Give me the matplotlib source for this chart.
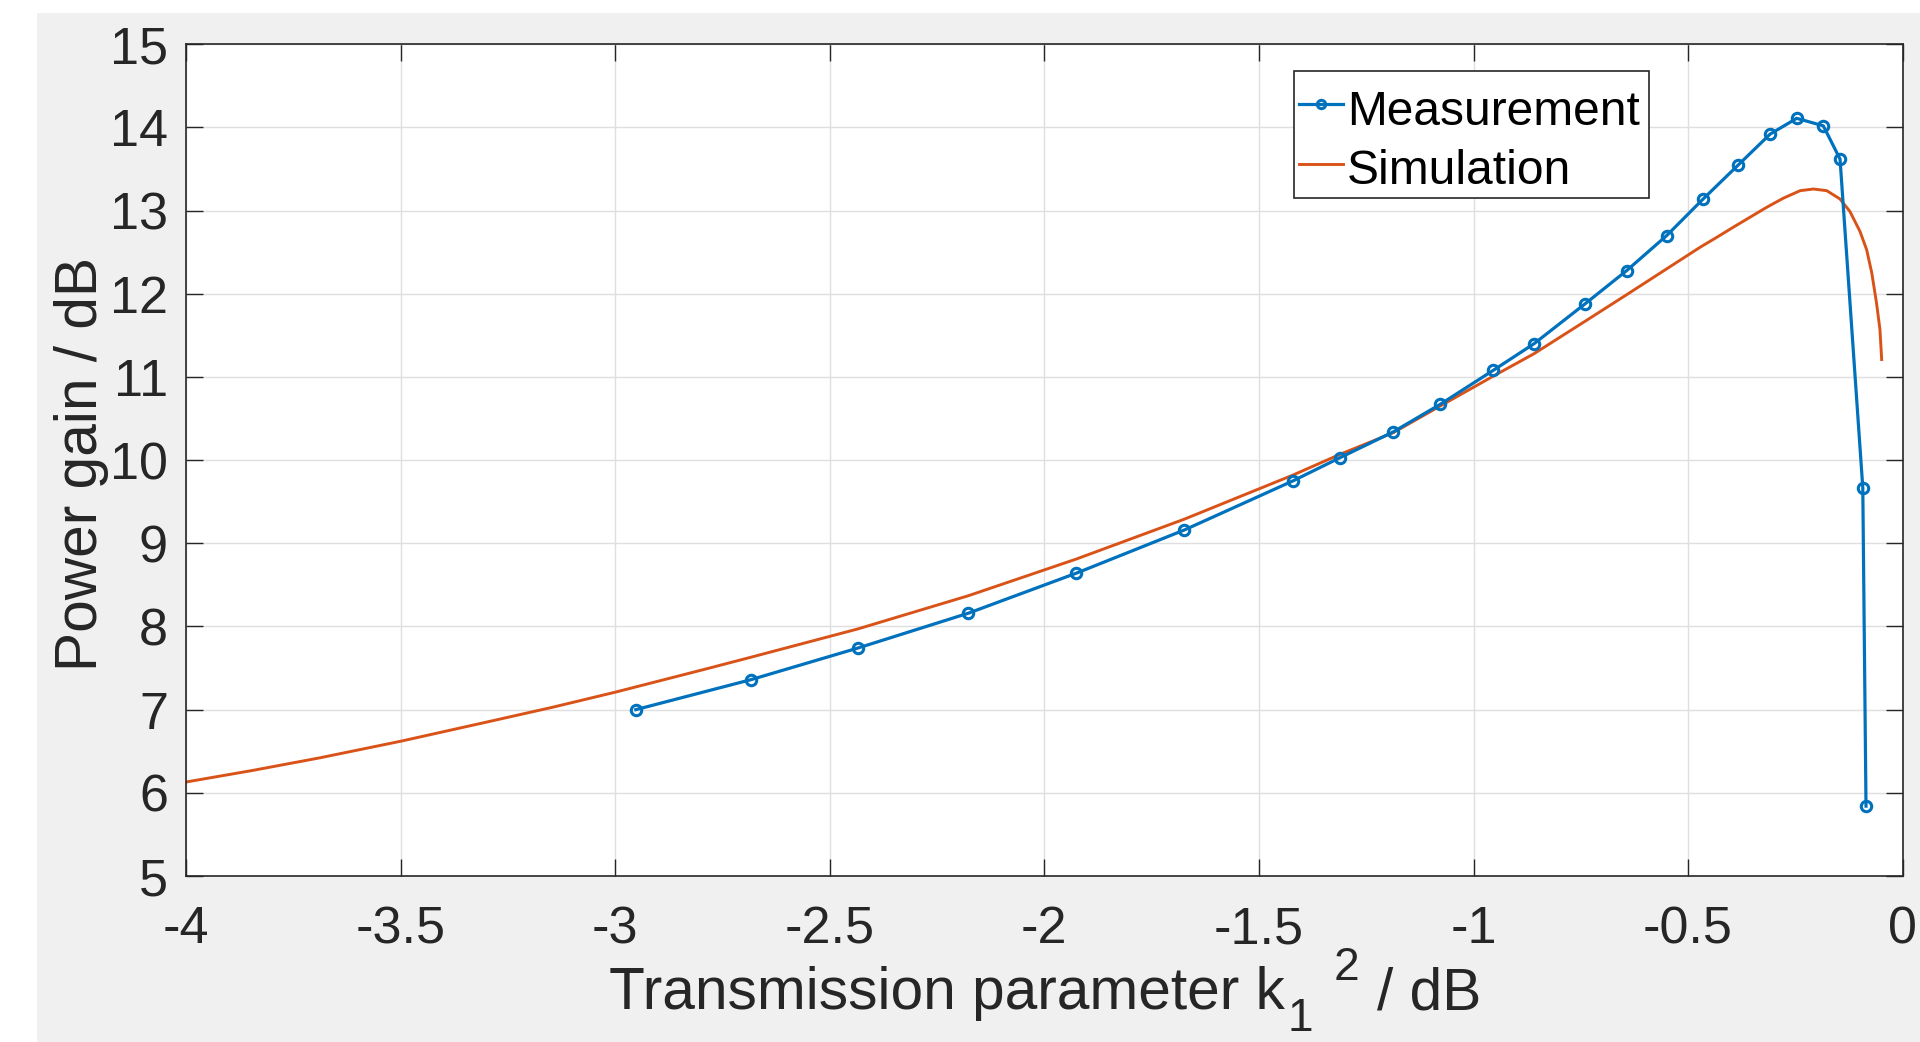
import matplotlib
matplotlib.use("Agg")
import matplotlib.pyplot as plt
from matplotlib.patches import Rectangle

# ---- data ----
meas_x = [-2.952, -2.684, -2.435, -2.177, -1.926, -1.674, -1.421, -1.311, -1.187,
          -1.078, -0.954, -0.859, -0.740, -0.643, -0.550, -0.465, -0.383, -0.309,
          -0.247, -0.185, -0.146, -0.093, -0.0855]
meas_y = [7.00, 7.36, 7.74, 8.16, 8.64, 9.16, 9.75, 10.03, 10.34,
          10.67, 11.08, 11.40, 11.88, 12.28, 12.70, 13.14, 13.55, 13.92,
          14.11, 14.02, 13.62, 9.67, 5.84]

sim_x = [-4.0, -3.844, -3.689, -3.5, -3.30, -3.145, -3.0, -2.788, -2.684, -2.435,
         -2.177, -1.926, -1.674, -1.421, -1.311, -1.187, -1.078, -0.954, -0.859,
         -0.740, -0.643, -0.472, -0.433, -0.395, -0.356, -0.317, -0.278, -0.239,
         -0.208, -0.177, -0.146, -0.123, -0.0995, -0.084, -0.072, -0.061, -0.053,
         -0.049]
sim_y = [6.13, 6.27, 6.42, 6.62, 6.85, 7.03, 7.21, 7.49, 7.63, 7.97,
         8.37, 8.81, 9.29, 9.82, 10.07, 10.33, 10.65, 11.01, 11.28,
         11.67, 11.99, 12.56, 12.68, 12.80, 12.92, 13.04, 13.15, 13.24,
         13.26, 13.24, 13.14, 12.99, 12.75, 12.53, 12.25, 11.89, 11.57,
         11.21]

xticks = [-4, -3.5, -3, -2.5, -2, -1.5, -1, -0.5, 0]
xtick_labels = ["-4", "-3.5", "-3", "-2.5", "-2", "-1.5", "-1", "-0.5", "0"]
yticks = [5, 6, 7, 8, 9, 10, 11, 12, 13, 14, 15]
ytick_labels = [str(v) for v in yticks]

labels = ["Measurement", "Simulation"]
xlabel_parts = ["Transmission parameter k", "1", "2", "/ dB"]
ylabel = "Power gain / dB"

# ---- style ----
plt.rcParams["font.family"] = ["Liberation Sans", "DejaVu Sans"]

BLUE = "#0072BD"
ORANGE = "#D95319"
DARK = "#262626"
W, H = 1920, 1042
AX_L, AX_R, AX_T, AX_B = 186.0, 1902.7, 44.3, 876.0

fig = plt.figure(figsize=(W / 100, H / 100), dpi=100, facecolor="white")
fig.patches.append(Rectangle((37 / W, 0), 1 - 37 / W, 1 - 13 / H,
                             transform=fig.transFigure, facecolor="#f0f0f0",
                             edgecolor="none", zorder=-10))

ax = fig.add_axes([AX_L / W, 1 - AX_B / H, (AX_R - AX_L) / W, (AX_B - AX_T) / H])
ax.set_facecolor("white")

ax.plot(meas_x, meas_y, color=BLUE, lw=2.3, marker="o", markersize=7.5,
        markerfacecolor="none", markeredgewidth=2.2, label=labels[0], zorder=3)
ax.plot(sim_x, sim_y, color=ORANGE, lw=2.1, label=labels[1], zorder=2)

ax.set_xlim(-4, 0)
ax.set_ylim(5, 15)
ax.set_xticks(xticks)
ax.set_xticklabels(xtick_labels)
ax.set_yticks(yticks)
ax.set_yticklabels(ytick_labels)

ax.grid(True, color="#dfdfdf", lw=1.0)
ax.set_axisbelow(True)

for sp in ax.spines.values():
    sp.set_color(DARK)
    sp.set_linewidth(1.2)

ax.tick_params(axis="both", which="major", direction="in", length=12, width=1.0,
               color=DARK, labelsize=37.5, labelcolor=DARK,
               top=True, right=True)
ax.tick_params(axis="x", pad=21)
ax.tick_params(axis="y", pad=13)

# y label
ax.set_ylabel(ylabel, fontsize=42.2, color=DARK)
ax.yaxis.set_label_coords(-0.045, 0.495)

# x label (MATLAB-style "k_1 ^2": subscript and superscript as separate pieces)
def px(x, y):
    return x / W, 1 - y / H

main_fs, small_fs = 42.2, 33.2
fig.text(*px(608.6, 1009.3), xlabel_parts[0], fontsize=main_fs, color=DARK,
         ha="left", va="baseline")
fig.text(*px(1287.7, 1031.0), xlabel_parts[1], fontsize=small_fs, color=DARK,
         ha="left", va="baseline")
fig.text(*px(1333.4, 980.0), xlabel_parts[2], fontsize=small_fs, color=DARK,
         ha="left", va="baseline")
fig.text(*px(1377.0, 1009.3), xlabel_parts[3], fontsize=main_fs, color=DARK,
         ha="left", va="baseline")

# legend: frame drawn separately, entries without frame
def axfrac(xp, yp):
    return (xp - AX_L) / (AX_R - AX_L), (AX_B - yp) / (AX_B - AX_T)

fx0, fy1 = axfrac(1294.3, 197.7)
fx1, fy0 = axfrac(1649.0, 71.0)
ax.add_patch(Rectangle((fx0, fy1), fx1 - fx0, fy0 - fy1, transform=ax.transAxes,
                       facecolor="white", edgecolor=DARK, lw=1.2, zorder=4))

ax0, ay0 = axfrac(1294.3, 79.0)
leg = ax.legend(loc="upper left", bbox_to_anchor=(ax0, ay0),
                fontsize=34.5, frameon=False, borderpad=0.1, labelspacing=0.17,
                handleheight=1.225, handlelength=0.92, handletextpad=0.08,
                borderaxespad=0.0)
leg.set_zorder(5)
for h in leg.legend_handles:
    try:
        h.set_markersize(6)
    except Exception:
        pass
for t in leg.get_texts():
    t.set_color("black")

fig.savefig("out.png", dpi=100, facecolor=fig.get_facecolor())
